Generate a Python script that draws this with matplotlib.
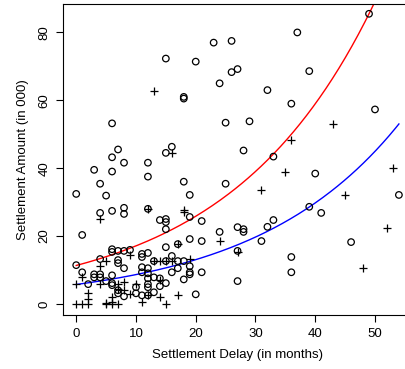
import numpy as np
import matplotlib
matplotlib.use('Agg')
import matplotlib.pyplot as plt

plt.rcParams['font.family'] = ['Liberation Sans', 'DejaVu Sans']

# circles (open points)
circle_x = [15, 20, 23, 26, 27, 26, 24, 18, 18, 6, 7, 16, 15, 25, 49, 37, 39, 32, 36, 29,
            50, 28, 33, 40, 54, 39, 41, 33, 32, 28, 28, 31, 46, 27, 36, 36, 27,
            6, 8, 12, 3, 6, 12, 4, 18, 25, 0, 5, 19, 6, 8, 8, 4, 12, 19, 14, 15, 15, 21,
            15, 1, 24, 19, 21, 17, 15, 6, 6, 7, 8, 9, 16, 11, 12, 11, 15, 17, 18, 4, 0,
            7, 7, 8, 1, 3, 4, 3, 4, 6, 11, 12, 11, 12, 12, 13, 14, 16, 19, 19, 19, 21,
            18, 15, 2, 5, 6, 6, 10, 12, 12, 13, 14, 20, 7, 7, 8, 10, 11, 12, 17, 13, 27]
circle_y = [72.3, 71.4, 77.0, 77.5, 69.2, 68.3, 65.0, 61.0, 60.5, 53.2, 45.5, 46.3, 44.5, 53.4,
            85.5, 80.0, 68.6, 63.0, 59.0, 53.8, 57.3, 45.2, 43.4, 38.4, 32.1, 28.6, 26.8, 24.7,
            22.7, 22.0, 21.2, 18.5, 18.2, 15.6, 13.8, 9.3, 6.7,
            43.2, 41.6, 41.6, 39.5, 39.0, 37.5, 35.4, 36.0, 35.4, 32.4, 31.9, 32.1, 27.4, 28.3,
            26.5, 26.8, 28.0, 25.6, 24.7, 25.0, 24.1, 24.4, 22.0, 20.3, 21.2, 19.1, 18.5, 17.6,
            16.7, 16.1, 15.3, 15.6, 15.6, 15.9, 14.1, 14.7, 15.0, 13.8, 12.6, 12.6, 12.6, 13.2,
            11.4, 12.9, 12.0, 10.5, 9.3, 8.7, 8.7, 7.8, 7.8, 8.4, 10.8, 10.5, 9.3, 9.0, 7.5,
            7.8, 7.5, 9.3, 11.1, 9.3, 8.7, 9.3, 7.2, 6.1, 5.8, 6.7, 6.1, 5.5, 4.9, 4.9, 5.8,
            3.4, 5.2, 2.8, 4.0, 3.1, 2.2, 3.1, 2.5, 2.5, 10.5, 12.6, 22.6]

# pluses
plus_x = [13, 16, 43, 36, 35, 31, 53, 45, 52, 27, 48, 4, 12, 18, 18, 24, 17, 9, 13, 14,
          19, 5, 4, 1, 0, 4, 7, 7, 8, 10, 8, 9, 14, 17, 14, 15, 12, 6, 5, 6, 7, 2, 2, 2,
          0, 1, 5, 6, 11, 15, 16]
plus_y = [62.6, 44.5, 52.9, 48.4, 39.0, 33.6, 40.1, 32.1, 22.4, 15.2, 10.5, 25.0, 28.0,
          27.1, 27.6, 18.5, 17.6, 14.4, 12.6, 12.6, 13.2, 12.6, 11.1, 7.8, 5.8, 5.8, 5.8,
          4.5, 6.4, 5.8, 4.0, 2.8, 7.0, 2.5, 1.9, 0.0, 2.5, 1.9, 0.0, 0.0, 0.0, 3.1, 1.3,
          0.0, 0.0, 0.0, 0.3, 0.5, 0.5, 12.6, 12.6]

# fitted curves: amount = base * exp(rate * delay)
red_base = 11.3
blue_base = 5.7
rate = 0.0413
delay_range = (0, 54)

fig = plt.figure(figsize=(4.05, 3.69), dpi=100)
ax = fig.add_axes([0.1563, 0.1463, 0.8605, 0.843])

ax.scatter(circle_x, circle_y, s=22, facecolors='none', edgecolors='black', linewidths=0.9, zorder=3)
ax.scatter(plus_x, plus_y, s=32, marker='+', color='black', linewidths=0.9, zorder=3)

xs = np.linspace(delay_range[0], delay_range[1], 200)
ax.plot(xs, red_base * np.exp(rate * xs), color='red', lw=1, zorder=2)
ax.plot(xs, blue_base * np.exp(rate * xs), color='blue', lw=1, zorder=2)

ax.set_xlim(-2.16, 56.16)
ax.set_ylim(-3.3, 88.4)
ax.set_xticks([0, 10, 20, 30, 40, 50])
ax.set_yticks([0, 20, 40, 60, 80])
ax.tick_params(direction='out', length=5, width=0.8, labelsize=9.5, pad=4)
for lbl in ax.get_yticklabels():
    lbl.set_rotation(90)
    lbl.set_va('center')
for sp in ax.spines.values():
    sp.set_linewidth(0.8)
ax.set_xlabel('Settlement Delay (in months)', fontsize=9.5, labelpad=7)
ax.set_ylabel('Settlement Amount (in 000)', fontsize=9.5, labelpad=7)

fig.savefig('out.png', dpi=100)
